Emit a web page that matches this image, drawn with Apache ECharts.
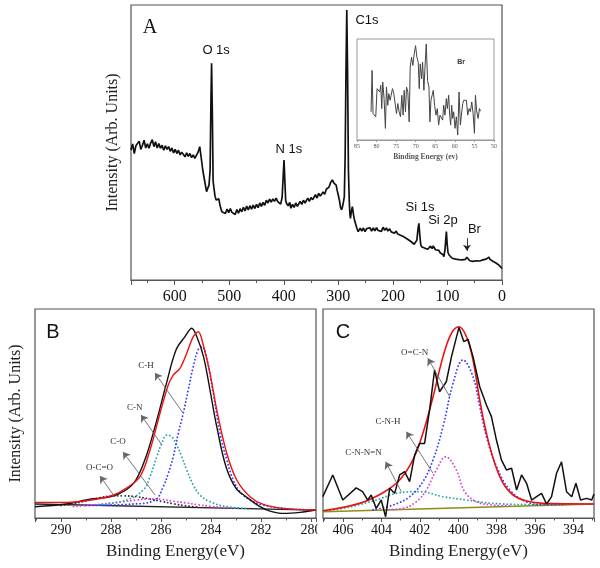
<!DOCTYPE html>
<html><head><meta charset="utf-8">
<script src="https://cdn.jsdelivr.net/npm/echarts@6/dist/echarts.min.js"></script>
<style>html,body{margin:0;padding:0;background:#fff}#c{width:600px;height:568px}</style>
</head><body><div id="c"></div><script>
// ---------- Panel A: survey spectrum (binding energy eV, intensity arb.) ----------
const surveyData = [[680,47.3],[677,49.5],[674,46.0],[671,48.8],[668,48.5],[665,50.5],[662,47.5],[659,49.0],[656,50.8],[653,48.0],[650,49.5],[647,47.9],[644,49.8],[641,51.0],[638,48.5],[635,50.3],[632,48.0],[629,49.6],[626,47.9],[623,49.0],[620,47.2],[617,48.8],[614,47.5],[611,48.5],[608,46.8],[605,48.0],[602,46.2],[599,47.5],[596,46.0],[593,47.2],[590,45.5],[587,46.5],[584,45.8],[581,44.8],[578,46.2],[575,45.0],[572,46.0],[569,44.5],[566,45.5],[563,44.2],[560,44.8],[557,46.5],[554,48.5],[551,44.0],[548.5,40.0],[545,36.0],[541.5,32.1],[539,33.5],[537,34.5],[535,40],[533.5,65],[532.3,78.8],[531,62],[529.5,36],[528,33.5],[526,30.5],[524,29.1],[521,28.5],[519,29.5],[517,27.3],[515,25.8],[513.5,24.8],[510,25.5],[507,24.2],[504,25.8],[501,24.5],[498,26.0],[495,24.6],[492,25.2],[489,23.8],[486,25.6],[483,24.3],[480,25.9],[477,24.8],[474,26.4],[471,25.1],[468,26.9],[465,25.5],[462,27.0],[459,25.8],[456,27.2],[453,26.0],[450,27.5],[447,26.3],[444,28.0],[441,26.8],[438,28.2],[435,27.2],[432,29.0],[429,28.0],[426,29.4],[423,28.3],[420,29.5],[417,28.6],[414,29.8],[411,28.5],[408,29.1],[405.7,27.6],[403,30],[401,38],[399.5,43.6],[398,36],[396.5,29],[395,27.9],[392,27.0],[389,28.2],[387,26.1],[384,27.5],[381,26.4],[378,28.0],[375,26.8],[373,27.3],[370,28.6],[367,27.5],[364,29.0],[361,28.0],[358.6,28.5],[356,29.8],[353,28.6],[350,30.0],[347,29.2],[344.6,29.7],[342,31.0],[339,29.8],[336,31.5],[333,30.5],[330.5,30.9],[328,32.0],[325,31.2],[322,33.0],[320,32.7],[317,33.8],[314,35.5],[311,36.4],[308,35.2],[306,35.8],[304,34.5],[302,32.5],[300,30.8],[298,29.0],[296,26.5],[294,25.5],[292.5,26.5],[290.5,28.5],[289,30.3],[287.5,45],[286,75],[284.5,98.2],[283,75],[281.5,40],[280,29.1],[278.8,24],[277.8,22.4],[276,25],[274.2,26.7],[272,23.5],[270,21.5],[268.6,20.6],[266,18.8],[263.6,17.6],[260,18.8],[257,17.8],[254,18.9],[251,17.6],[248,18.7],[245,18.0],[242,19.0],[239,17.8],[236,18.9],[233,17.9],[230,19.0],[227,18.0],[224,18.6],[221,17.7],[218,19.2],[215,18.1],[212,18.9],[209,17.8],[206,18.6],[203,17.5],[200,18.2],[197,17.0],[194,17.8],[191,16.7],[188,17.4],[185,16.2],[182,16.8],[179,15.6],[176,16.0],[173,14.8],[170,15.2],[167,14.0],[164,14.3],[161,13.0],[158,12.7],[156,14.5],[154,18.5],[152.3,20.6],[150.5,16],[149,13],[147.5,12.1],[145,12.5],[142,11.6],[139,12.0],[136,11.2],[133.5,11.5],[131,12.3],[128,11.4],[126,12.4],[124.4,12.1],[122,11.0],[119,10.5],[116,10.8],[113,9.8],[111,10.2],[108.5,9.3],[106.6,8.5],[104.5,11],[103,15],[101.9,17.6],[100.5,13],[99,10],[97,9.1],[94,8.5],[91.3,7.9],[88,8.4],[85,7.6],[82,8.3],[79,7.4],[76,8.0],[73,7.3],[70,7.9],[67,7.5],[64.5,8.3],[62,7.8],[59,7.0],[56,7.6],[53,6.8],[50,7.4],[47,7.0],[44,7.5],[41,6.9],[38,7.6],[35,7.3],[32,7.0],[29,7.6],[26,8.1],[24,8.3],[22,7.5],[19,6.9],[16,6.7],[13.7,6.1],[11,6.2],[8,5.6],[5,5.3],[2,4.6],[0,4.2]];
const surveyPeakLabels = [['O 1s',524,83.6],['N 1s',390.5,47.6],['C1s',247.5,94.4],['Si 1s',150.3,26.5],['Si 2p',108.2,21.8],['Br',50.6,18.5]];
const brArrow = [[64.2,15.2],[64.2,10.6]];

// ---------- Inset: Br region ----------
const brInset = [[81.41,27.9],[81.15,68.9],[80.90,26.2],[80.56,24.6],[80.21,23.0],[79.87,50.8],[79.53,52.5],[79.19,47.5],[78.93,54.1],[78.68,31.1],[78.42,57.4],[78.08,41.0],[77.74,11.5],[77.48,52.5],[77.14,34.4],[76.88,45.9],[76.54,39.3],[76.28,44.3],[75.94,50.8],[75.60,45.9],[75.26,47.5],[74.91,26.2],[74.57,36.1],[74.23,27.9],[73.89,23.0],[73.55,44.3],[73.21,24.6],[72.95,49.2],[72.61,27.9],[72.35,52.5],[72.01,47.5],[71.67,18.0],[71.41,72.1],[71.07,82.0],[70.73,73.8],[70.38,85.2],[70.04,93.4],[69.70,82.0],[69.36,77.0],[69.10,50.8],[68.85,75.4],[68.50,60.7],[68.25,77.0],[67.91,49.2],[67.65,70.5],[67.31,95.1],[66.97,59.0],[66.62,52.5],[66.37,18.0],[66.11,39.3],[65.77,41.0],[65.51,49.2],[65.17,34.4],[64.83,24.6],[64.49,31.1],[64.15,14.8],[63.80,24.6],[63.46,26.2],[63.12,19.7],[62.86,34.4],[62.52,24.6],[62.18,41.0],[61.92,31.1],[61.58,44.3],[61.32,24.6],[61.07,14.8],[60.81,34.4],[60.56,21.3],[60.30,27.9],[59.96,11.5],[59.62,23.0],[59.27,4.9],[58.93,47.5],[58.59,14.8],[58.33,24.6],[57.99,36.1],[57.74,39.3],[57.39,41.0],[57.05,39.3],[56.71,24.6],[56.37,31.1],[56.03,27.9],[55.68,37.7],[55.34,26.2],[55.00,6.6],[54.74,44.3],[54.40,27.9],[54.06,21.3],[53.72,31.1],[53.46,28.5]];
const insetLabel = ['Br',58.4,77];

// ---------- Panel B: C 1s ----------
const c1sMeasured = [[291.04,5.4],[289.8,6.7],[288.8,9.1],[288.0,10.2],[287.4,13.4],[287.0,18.2],[286.6,29.3],[286.2,45.4],[285.8,63.6],[285.4,80.4],[285.04,86.8],[284.77,90.8],[284.57,86.8],[284.3,77.2],[284.04,61.2],[283.77,43.7],[283.4,24.5],[283.0,14.2],[282.6,10.2],[282.04,5.4],[281.64,3.3],[281.1,2.2],[280.44,2.7],[279.8,3.8]];
const c1sFit = [[291.04,7.5],[289.8,7.5],[288.8,8.6],[287.9,11.0],[287.4,14.2],[286.84,19.8],[286.44,32.5],[286.04,50.1],[285.71,63.6],[285.51,68.4],[285.24,71.6],[284.97,78.8],[284.71,86.8],[284.51,89.1],[284.31,82.8],[284.04,69.2],[283.77,51.7],[283.37,31.0],[282.97,18.2],[282.44,10.2],[281.91,6.5],[281.11,4.6],[279.8,3.8]];
const c1sBaseline = [[291.04,6.7],[279.8,3.8]];
const c1sCH = [[289.0,6.0],[287.11,6.7],[286.24,8.6],[285.91,15.0],[285.71,21.4],[285.51,29.3],[285.31,40.5],[285.11,50.1],[284.91,61.2],[284.71,72.4],[284.51,80.7],[284.37,82.0],[284.17,76.4],[283.91,59.7],[283.64,40.5],[283.37,27.8],[283.11,18.2],[282.84,12.6],[282.44,8.6],[281.91,6.2],[281.11,4.6],[279.9,3.8]];
const c1sCN = [[288.5,6.2],[287.37,8.6],[286.71,13.4],[286.44,19.8],[286.17,29.3],[285.97,35.7],[285.77,39.7],[285.57,38.9],[285.37,34.9],[285.17,29.3],[284.97,23.0],[284.71,15.8],[284.44,11.0],[284.04,7.8],[283.37,5.4],[282.57,4.6]];
const c1sCO = [[289.5,5.5],[288.5,6.5],[287.5,7.8],[287.0,8.6],[286.5,9.1],[286.0,8.9],[285.5,8.0],[285.0,7.2],[284.5,6.3],[284.0,5.6],[283.5,5.0],[283.0,4.8]];
const c1sOCO = [[290.0,6.0],[289.5,6.8],[289.0,8.2],[288.5,9.6],[288.0,10.5],[287.5,10.6],[287.0,10.2],[286.5,9.2],[286.0,8.0],[285.5,6.8],[285.0,5.8],[284.5,5.2]];
const c1sLabels = [['C-H',286.6,72.7],['C-N',287.05,52.6],['C-O',287.72,36.4],['O-C=O',288.46,23.9]];
const c1sArrows = [[[285.12,50.2],[286.24,69.4]],[[285.96,34.9],[286.8,49.3]],[[286.24,11.0],[287.52,31.6]],[[287.84,10.0],[288.44,20.1]]];

// ---------- Panel C: N 1s ----------
const n1sMeasured = [[407.05,10.2],[406.53,20.6],[406.01,8.6],[405.31,14.4],[404.98,12.6],[404.71,8.6],[404.53,11.0],[404.27,4.6],[404.01,8.6],[403.78,0.6],[403.57,14.2],[403.31,11.8],[403.05,20.6],[402.79,22.2],[402.53,17.4],[402.27,30.1],[402.01,35.7],[401.75,35.7],[401.49,51.7],[401.23,70.8],[400.97,60.4],[400.62,65.2],[400.35,77.2],[399.96,91.2],[399.71,84.4],[399.49,85.5],[399.23,77.2],[398.88,62.8],[398.53,54.1],[398.27,48.5],[398.01,37.3],[397.75,27.8],[397.49,23.0],[397.22,23.8],[396.96,13.4],[396.70,20.6],[396.44,16.6],[396.18,8.6],[395.92,10.2],[395.66,11.8],[395.40,6.7],[395.14,10.2],[394.88,21.4],[394.62,26.9],[394.36,12.6],[394.09,10.2],[393.87,16.6],[393.63,8.6],[393.31,9.4],[393.05,8.6],[392.93,11.5]];
const n1sFit = [[407.04,3.5],[405.14,7.0],[403.92,12.1],[403.05,18.2],[402.36,27.8],[401.84,40.5],[401.31,58.0],[400.79,77.2],[400.35,88.4],[399.96,91.5],[399.57,86.7],[399.23,75.6],[398.88,56.5],[398.53,40.5],[398.10,26.2],[397.66,16.6],[397.14,11.0],[396.44,8.1],[395.58,7.0],[392.93,6.7]];
const n1sBaseline = [[407.04,3.0],[392.93,6.7]];
const n1sOCN = [[404.44,3.8],[403.4,6.2],[402.53,10.2],[401.84,17.4],[401.31,27.8],[400.79,43.7],[400.27,64.4],[399.75,75.6],[399.23,67.6],[398.88,53.3],[398.53,38.9],[398.0,24.5],[397.31,13.4],[396.44,7.7],[395.58,6.4],[394.5,6.4]];
const n1sCNH = [[403.6,4.0],[402.88,4.6],[402.18,7.8],[401.66,13.4],[401.14,23.0],[400.65,29.3],[400.10,23.0],[399.66,12.6],[399.05,7.8],[398.18,6.2],[397.2,5.8]];
const n1sCNNN = [[407.04,3.5],[406.0,4.6],[404.27,8.6],[403.22,11.8],[402.01,12.6],[400.79,10.2],[399.57,8.6],[398.18,7.0],[395.58,6.4],[392.93,6.7]];
const n1sLabels = [['O=C-N',402.27,79.1],['C-N-H',403.65,46.1],['C-N-N=N',404.93,31.2]];
const n1sArrows = [[[400.44,58.0],[401.58,76.4]],[[401.31,21.4],[402.7,41.3]],[[402.96,12.6],[403.78,26.9]]];

const SERIF = '"Liberation Serif","DejaVu Serif",serif';
const SANS = '"Liberation Sans",Arial,sans-serif';
const FRAME = '#555';

function frameGrid(l,t,w,h,extra){return Object.assign({left:l,top:t,width:w,height:h,show:true,borderColor:FRAME,borderWidth:1.2,backgroundColor:'transparent'},extra||{});}
function yHidden(grid,name,gap){return {type:'value',gridIndex:grid,min:0,max:100,axisLine:{show:false},axisTick:{show:false},axisLabel:{show:false},splitLine:{show:false},
  name:name||'',nameLocation:'middle',nameGap:gap||0,nameTextStyle:{fontFamily:SERIF,fontSize:16,color:'#222'}};}
function line(name,x,y,data,color,width,opts){return Object.assign({type:'line',name:name,xAxisIndex:x,yAxisIndex:y,data:data,showSymbol:false,symbol:'none',
  lineStyle:{color:color,width:width},silent:true,animation:false},opts||{});}
function dotted(name,x,y,data,color){return line(name,x,y,data,color,1.9,{smooth:0.4,lineStyle:{color:color,width:1.9,type:[0.01,3.6],cap:'round'}});}
function arrows(list,x,y,color,size){return {type:'line',xAxisIndex:x,yAxisIndex:y,data:[],silent:true,animation:false,
  markLine:{silent:true,animation:false,symbol:['none','arrow'],symbolSize:size||7,label:{show:false},lineStyle:{color:color||'#666',width:0.9,type:'solid'},
  data:list.map(a=>[{coord:a[0]},{coord:a[1]}])}};}

const chart = echarts.init(document.getElementById('c'),null,{renderer:'canvas'});
const evenFmt = v=>(Math.abs(v-Math.round(v))<1e-6&&Math.round(v)%2===0?String(Math.round(v)):'');
const option = {
  animation:false,
  backgroundColor:'#fff',
  grid:[frameGrid(131,5,371,275),frameGrid(35,309,281,209),frameGrid(323,309,271,209),
        frameGrid(357,39,137,101,{borderColor:'#999',borderWidth:1,backgroundColor:'#fff'})],
  xAxis:[
    {type:'value',gridIndex:0,position:'bottom',inverse:true,min:0,max:680,interval:100,axisLine:{show:true,lineStyle:{color:FRAME,width:1.2}},
     axisTick:{show:true,inside:false,length:5,lineStyle:{color:FRAME}},splitLine:{show:false},
     axisLabel:{margin:9,fontFamily:SERIF,fontSize:16,color:'#111',formatter:v=>(v%100===0?String(v):'')}},
    {type:'value',gridIndex:0,position:'bottom',inverse:true,min:0,max:680,interval:50,axisLine:{show:false},
     axisTick:{show:true,length:3,lineStyle:{color:FRAME}},axisLabel:{show:false},splitLine:{show:false}},
    {type:'value',gridIndex:1,position:'bottom',inverse:true,min:279.8,max:291.04,splitNumber:5,axisLine:{show:true,lineStyle:{color:FRAME,width:1.2}},
     axisTick:{show:true,length:4,lineStyle:{color:FRAME}},minorTick:{show:true,splitNumber:2,length:2.5,lineStyle:{color:FRAME}},splitLine:{show:false},minorSplitLine:{show:false},
     axisLabel:{margin:5,fontFamily:SERIF,fontSize:14,color:'#111',formatter:evenFmt},
     name:'Binding Energy(eV)',nameLocation:'middle',nameGap:25,nameTextStyle:{fontFamily:SERIF,fontSize:17,color:'#222'}},
    {type:'value',gridIndex:2,position:'bottom',inverse:true,min:392.93,max:407.04,splitNumber:7,axisLine:{show:true,lineStyle:{color:FRAME,width:1.2}},
     axisTick:{show:true,length:4,lineStyle:{color:FRAME}},minorTick:{show:true,splitNumber:2,length:2.5,lineStyle:{color:FRAME}},splitLine:{show:false},minorSplitLine:{show:false},
     axisLabel:{margin:5,fontFamily:SERIF,fontSize:14,color:'#111',formatter:evenFmt},
     name:'Binding Energy(eV)',nameLocation:'middle',nameGap:25,nameTextStyle:{fontFamily:SERIF,fontSize:17,color:'#222'}},
    {type:'value',gridIndex:3,position:'bottom',inverse:true,min:50,max:85,interval:5,axisLine:{show:true,lineStyle:{color:'#999',width:1}},
     axisTick:{show:true,length:2,lineStyle:{color:'#999'}},splitLine:{show:false},
     axisLabel:{margin:3,fontFamily:SERIF,fontSize:6,color:'#555'},
     name:'Binding Energy (ev)',nameLocation:'middle',nameGap:13,nameTextStyle:{fontFamily:SERIF,fontSize:7.5,fontWeight:'bold',color:'#555'}}
  ],
  yAxis:[yHidden(0,'Intensity (Arb. Units)',10),yHidden(1,'Intensity (Arb. Units)',11),yHidden(2),yHidden(3)],
  series:[
    line('survey',0,0,surveyData,'#111',1.7),
    arrows([brArrow],0,0,'#222',6),
    line('Br inset',4,3,brInset,'#444',1),
    line('C1s baseline',2,1,c1sBaseline,'#222',1.3),
    dotted('O-C=O',2,1,c1sOCO,'#333'),
    dotted('C-O',2,1,c1sCO,'#e040e0'),
    dotted('C-N',2,1,c1sCN,'#2aa8a8'),
    dotted('C-H',2,1,c1sCH,'#3a3aff'),
    line('C1s measured',2,1,c1sMeasured,'#111',1.4,{smooth:0.35}),
    line('C1s fit',2,1,c1sFit,'#ee1111',1.4,{smooth:0.35}),
    arrows(c1sArrows,2,1),
    line('N1s baseline',3,2,n1sBaseline,'#8d8d14',1.6),
    dotted('C-N-N=N',3,2,n1sCNNN,'#2aa8a8'),
    dotted('C-N-H',3,2,n1sCNH,'#e040e0'),
    dotted('O=C-N',3,2,n1sOCN,'#3a3aff'),
    line('N1s fit',3,2,n1sFit,'#ee1111',1.6,{smooth:0.4}),
    line('N1s measured',3,2,n1sMeasured,'#111',1.5),
    arrows(n1sArrows,3,2)
  ]
};
chart.setOption(option);

// text annotations placed from data coordinates
const g = [];
surveyPeakLabels.forEach(([t,x,y])=>{const p=chart.convertToPixel({gridIndex:0},[x,y]);
  g.push({type:'text',x:p[0],y:p[1],style:{text:t,font:'13px '+SANS,fill:'#111',align:'center',verticalAlign:'middle'},z:10});});
c1sLabels.forEach(([t,x,y])=>{const p=chart.convertToPixel({gridIndex:1},[x,y]);
  g.push({type:'text',x:p[0],y:p[1],style:{text:t,font:'9px '+SERIF,fill:'#333',align:'center',verticalAlign:'middle'},z:10});});
n1sLabels.forEach(([t,x,y])=>{const p=chart.convertToPixel({gridIndex:2},[x,y]);
  g.push({type:'text',x:p[0],y:p[1],style:{text:t,font:'9px '+SERIF,fill:'#333',align:'center',verticalAlign:'middle'},z:10});});
{const p=chart.convertToPixel({gridIndex:3},[insetLabel[1],insetLabel[2]]);
  g.push({type:'text',x:p[0],y:p[1],style:{text:insetLabel[0],font:'bold 7px '+SANS,fill:'#333',align:'center',verticalAlign:'middle'},z:10});}
g.push({type:'text',x:150,y:28,style:{text:'A',font:'20px '+SERIF,fill:'#111',align:'center',verticalAlign:'middle'},z:10});
g.push({type:'text',x:53,y:332,style:{text:'B',font:'20px '+SANS,fill:'#111',align:'center',verticalAlign:'middle'},z:10});
g.push({type:'text',x:343,y:332,style:{text:'C',font:'20px '+SANS,fill:'#111',align:'center',verticalAlign:'middle'},z:10});
// panel C's frame clips the right end of panel B's last tick label, as in the original figure
g.push({type:'rect',shape:{x:317.5,y:521,width:5,height:20},style:{fill:'#fff'},z:20});
chart.setOption({graphic:g});
</script></body></html>
